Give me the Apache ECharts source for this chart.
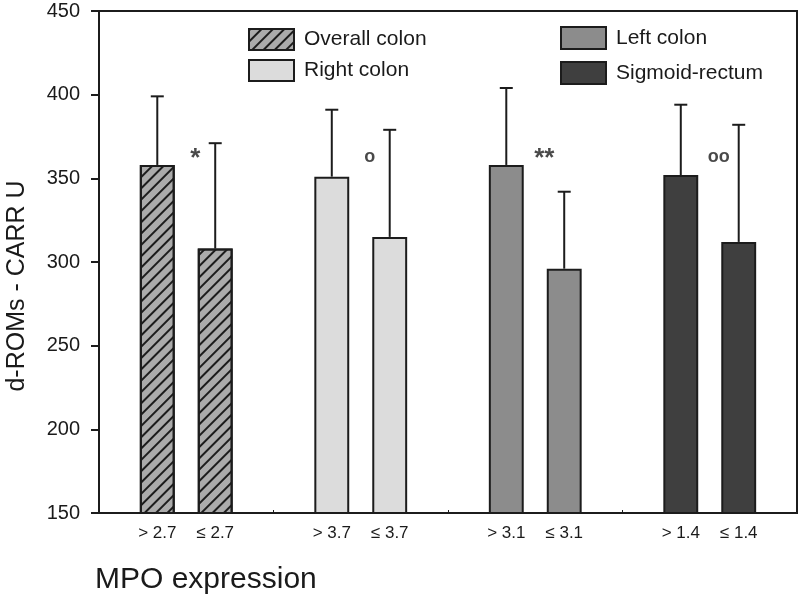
<!DOCTYPE html>
<html>
<head>
<meta charset="utf-8">
<script src="https://cdn.jsdelivr.net/npm/echarts@6/dist/echarts.min.js"></script>
<style>html,body{margin:0;padding:0;background:#fff}#c{width:800px;height:595px}</style>
</head>
<body>
<div id="c"></div>
<script>
// ---- data ----
var groups = ['Overall colon', 'Right colon', 'Left colon', 'Sigmoid-rectum'];
var hiLabels = ['> 2.7', '> 3.7', '> 3.1', '> 1.4'];
var loLabels = ['\u2264 2.7', '\u2264 3.7', '\u2264 3.1', '\u2264 1.4'];
var hiMean = [358, 351, 358, 352];
var hiSD = [41, 40, 46, 42];
var loMean = [308, 315, 296, 312];
var loSD = [63, 64, 46, 70];
var annotations = ['*', 'o', '**', 'oo'];
var annotationY = [364, 363, 364, 363];
var yTicks = [150, 200, 250, 300, 350, 400, 450];

// ---- styles ----
var fills = ['#ababab', '#dcdcdc', '#8c8c8c', '#3f3f3f'];
var edge = '#1c1c1c';
var font = 'Liberation Sans, Arial, sans-serif';
var BAR_RATIO = 0.2, GAP_RATIO = 0.66;

function itemStyleFor(i) {
  var s = { color: fills[i], borderColor: edge, borderWidth: 2 };
  if (i === 0) {
    s.decal = { symbol: 'rect', symbolSize: 1, color: '#1c1c1c',
      dashArrayX: [1, 0], dashArrayY: [1.6, 5.5], rotation: -Math.PI / 4 };
  }
  return s;
}

var series = [];
groups.forEach(function (g, i) {
  ['hi', 'lo'].forEach(function (k) {
    var vals = k === 'hi' ? hiMean : loMean;
    var labs = k === 'hi' ? hiLabels : loLabels;
    series.push({
      type: 'bar', name: g, stack: k, barWidth: (BAR_RATIO * 100) + '%', barGap: (GAP_RATIO * 100) + '%',
      itemStyle: itemStyleFor(i),
      label: { show: true, position: 'bottom', distance: 11, color: '#1a1a1a', fontSize: 17, fontFamily: font,
        formatter: function () { return labs[i]; } },
      data: groups.map(function (_, j) { return j === i ? vals[j] : '-'; }),
      z: 2
    });
  });
});

function errRender(means, sds, sign) {
  return function (params, api) {
    var idx = api.value(0);
    var band = api.size([1, 0])[0];
    var bw = BAR_RATIO * band, gap = GAP_RATIO * bw;
    var off = sign * (bw + gap) / 2;
    var c = api.coord([idx, means[idx]]);
    var t = api.coord([idx, means[idx] + sds[idx]]);
    var x = c[0] + off;
    var st = { stroke: '#1c1c1c', lineWidth: 2 };
    return { type: 'group', children: [
      { type: 'line', shape: { x1: x, y1: c[1], x2: x, y2: t[1] }, style: st },
      { type: 'line', shape: { x1: x - 6.5, y1: t[1], x2: x + 6.5, y2: t[1] }, style: st }
    ]};
  };
}
series.push({ type: 'custom', renderItem: errRender(hiMean, hiSD, -1), data: groups.map(function (_, j) { return [j]; }), z: 1, silent: true });
series.push({ type: 'custom', renderItem: errRender(loMean, loSD, 1), data: groups.map(function (_, j) { return [j]; }), z: 1, silent: true });
series.push({
  type: 'scatter', symbolSize: 0, silent: true,
  data: groups.map(function (_, j) { return [j, annotationY[j]]; }),
  label: { show: true, position: 'inside', offset: [9, 0], color: '#1c1c1c', fontFamily: font,
    formatter: function (p) {
      var a = annotations[p.dataIndex];
      return a.charAt(0) === '*' ? '{s|' + a + '}' : '{o|' + a + '}';
    },
    rich: {
      s: { fontSize: 26, fontWeight: 'bold', fontFamily: font, color: '#1c1c1c', padding: [8, 0, 0, 0] },
      o: { fontSize: 18, fontWeight: 'bold', fontFamily: font, color: '#1c1c1c' }
    }
  }
});

var chart = echarts.init(document.getElementById('c'), null, { renderer: 'canvas' });
chart.setOption({
  animation: false,
  backgroundColor: '#fff',
  grid: { left: 99, right: 3, top: 11, bottom: 82, outerBoundsMode: 'none', containLabel: false,
    show: true, borderColor: '#1c1c1c', borderWidth: 2, backgroundColor: 'transparent' },
  title: { text: 'MPO expression', left: 95, top: 565, padding: 0, textStyle: { fontFamily: font, fontSize: 30, fontWeight: 'normal', color: '#1a1a1a' } },
  legend: [
    { data: groups.slice(0, 2), orient: 'vertical', left: 248, top: 28, padding: 0, itemWidth: 45, itemHeight: 21, itemGap: 8,
      textStyle: { fontFamily: font, fontSize: 21, color: '#1a1a1a', padding: [0, 0, 0, 5] }, icon: 'rect' },
    { data: groups.slice(2), orient: 'vertical', left: 560, top: 26, padding: 0, itemWidth: 45, itemHeight: 22, itemGap: 11,
      textStyle: { fontFamily: font, fontSize: 21, color: '#1a1a1a', padding: [0, 0, 0, 5] }, icon: 'rect' }
  ],
  xAxis: {
    type: 'category', data: groups,
    axisLine: { lineStyle: { color: '#1c1c1c', width: 2 } },
    axisTick: { show: true, inside: true, length: 3, lineStyle: { color: '#1c1c1c' } },
    axisLabel: { show: false }
  },
  yAxis: {
    type: 'value', min: 150, max: 450, interval: 50,
    name: 'd-ROMs - CARR U', nameLocation: 'middle', nameGap: 69,
    nameTextStyle: { fontFamily: font, fontSize: 25, color: '#1a1a1a', padding: [0, 48, 0, 0] },
    axisLine: { show: true, lineStyle: { color: '#1c1c1c', width: 2 } },
    axisTick: { show: true, length: 8, lineStyle: { color: '#1c1c1c', width: 2 } },
    axisLabel: { margin: 19, fontFamily: font, fontSize: 20, color: '#1a1a1a',
      formatter: function (v) { return yTicks.indexOf(v) >= 0 ? String(v) : ''; } },
    splitLine: { show: false }
  },
  series: series
});
</script>
</body>
</html>
